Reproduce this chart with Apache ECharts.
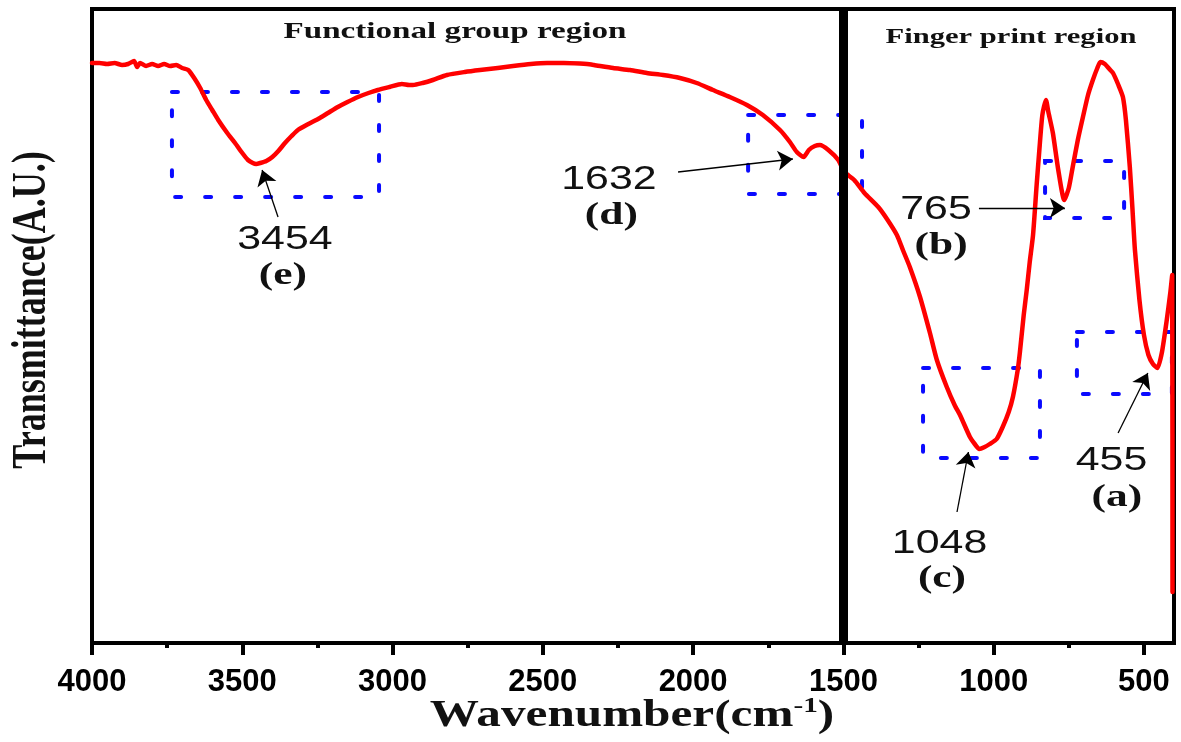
<!DOCTYPE html>
<html>
<head>
<meta charset="utf-8">
<title>FTIR spectrum</title>
<script src="https://cdn.jsdelivr.net/npm/echarts@6/dist/echarts.min.js"></script>
<style>
  html, body { margin: 0; padding: 0; background: #ffffff; }
  #chart { width: 1181px; height: 742px; }
</style>
</head>
<body>
<div id="chart"></div>
<script>
// FTIR spectrum: wavenumber (cm-1) against transmittance (arbitrary units)
const wavenumber = [
  4000, 3975, 3950, 3925, 3900, 3880, 3860, 3850, 3840, 3820, 3800, 3780, 3760, 3740, 3720,
  3700, 3680, 3660, 3640, 3620, 3600, 3580, 3550, 3524, 3500, 3481, 3465, 3454, 3440, 3420,
  3400, 3380, 3358, 3336, 3315, 3280, 3248, 3215, 3182, 3150, 3115, 3080, 3049, 3010, 2969,
  2945, 2932, 2900, 2866, 2819, 2760, 2709, 2650, 2599, 2540, 2486, 2430, 2377, 2353, 2330,
  2266, 2210, 2154, 2100, 2044, 1988, 1934, 1878, 1821, 1768, 1711, 1678, 1655, 1632, 1615,
  1595, 1578, 1550, 1517, 1497, 1464, 1430, 1384, 1355, 1322, 1302, 1279, 1245, 1212, 1189,
  1156, 1130, 1112, 1079, 1063, 1048, 1030, 1013, 990, 970, 950, 936, 920, 913, 900,
  890, 880, 869, 857, 848, 838, 826, 818, 803, 785, 765, 750, 737, 720, 703,
  686, 670, 655, 645, 630, 615, 603, 585, 570, 560, 547, 538, 530, 515, 500,
  485, 470, 455, 440, 425, 412, 406, 405
];
const transmittance = [
  580, 580, 579, 580, 578, 579, 582, 576, 580, 577, 579, 577, 579, 577, 578,
  575, 573, 565, 555, 543, 533, 523, 510, 500, 490, 483, 480, 479, 480, 482,
  486, 492, 500, 507, 513, 519, 524, 530, 536, 541, 546, 550, 553, 556, 559,
  558, 558, 560, 563, 568, 571, 573, 575, 577, 579, 580, 580, 579.5, 579, 578,
  575, 573, 570, 568, 565, 560, 553, 546, 538, 528, 513, 501, 491, 486, 493,
  497, 498, 493, 483, 471, 463, 450, 436, 424, 408, 393, 376, 346, 310, 283,
  256, 238, 228, 206, 199, 194, 196, 199, 204, 216, 231, 246, 273, 290, 328,
  353, 381, 408, 458, 493, 528, 543, 531, 510, 473, 443, 455, 476, 503, 526,
  548, 563, 575, 581, 579, 574, 570, 558, 546, 523, 476, 433, 393, 343, 308,
  288, 279, 275, 291, 321, 351, 368, 51
];

// axis ticks
const majorTicks = [500, 1000, 1500, 2000, 2500, 3000, 3500, 4000];
const minorTicks = [750, 1250, 1750, 2250, 2750, 3250, 3750];

// assigned bands
const peakPositions = [455, 765, 1048, 1632, 3454];
const peakTags = ['(a)', '(b)', '(c)', '(d)', '(e)'];
const regionBoundary = 1500;
const regionTitles = ['Functional group region', 'Finger print region'];

// annotation layout in data units: [wavenumber, transmittance]
const annotationLayout = {
  455:  { box: [[723, 311], [407, 249]], arrow: [[586, 210], [487, 270]], num: [608, 182],   tag: [590, 145.5] },
  765:  { box: [[829, 482], [566, 425]], arrow: [[1049, 435], [763, 435]], num: [1192, 433], tag: [1175, 397] },
  1048: { box: [[1235, 275], [846, 185]], arrow: [[1122, 131], [1084, 191]], num: [1180, 99.5], tag: [1172, 64.5] },
  1632: { box: [[1817, 528], [1438, 449]], arrow: [[2050, 471], [1668, 484]], num: [2280, 463.5], tag: [2272, 427] },
  3454: { box: [[3734, 551], [3045, 446]], arrow: [[3381, 426], [3434, 473]], num: [3358, 403], tag: [3365, 367] }
};

const spectrum = wavenumber.map((w, i) => [w, transmittance[i]]);

const boxData = peakPositions.map(p => {
  const b = annotationLayout[p].box;
  return [{ coord: b[0] }, { coord: b[1] }];
});
const arrowData = peakPositions.map(p => {
  const a = annotationLayout[p].arrow;
  return [
    { coord: a[0], symbol: 'none' },
    { coord: a[1], symbol: 'arrow', symbolSize: 15 }
  ];
});

const chart = echarts.init(document.getElementById('chart'), null, { renderer: 'canvas' });

const option = {
  animation: false,
  backgroundColor: '#ffffff',
  grid: {
    left: 92, right: 7, top: 9, bottom: 99,
    show: true, borderColor: '#000000', borderWidth: 4, backgroundColor: 'transparent'
  },
  xAxis: [
    {
      type: 'value', min: 400, max: 4000, inverse: true, position: 'bottom',
      axisLine: { show: true, lineStyle: { color: '#000', width: 4 } },
      axisTick: { show: true, inside: false, length: 12, customValues: majorTicks,
                  lineStyle: { color: '#000', width: 4 } },
      axisLabel: { show: true, customValues: majorTicks, margin: 24, color: '#000',
                   formatter: v => String(v),
                   fontFamily: '"Liberation Sans", Arial, sans-serif', fontWeight: 'bold', fontSize: 31 },
      splitLine: { show: false }
    },
    {
      type: 'value', min: 400, max: 4000, inverse: true, position: 'bottom', gridIndex: 0,
      axisLine: { show: false },
      axisTick: { show: true, inside: false, length: 5, customValues: minorTicks,
                  lineStyle: { color: '#000', width: 4 } },
      axisLabel: { show: true, customValues: minorTicks, formatter: () => '' },
      splitLine: { show: false }
    }
  ],
  yAxis: {
    type: 'value', min: 0, max: 634,
    axisLine: { show: false }, axisTick: { show: false }, axisLabel: { show: false },
    splitLine: { show: false }
  },
  series: [
    {
      // region boundary
      type: 'line', z: 1, data: [], silent: true,
      markLine: {
        silent: true, symbol: ['none', 'none'], animation: false,
        label: { show: false },
        lineStyle: { color: '#000000', width: 9, type: 'solid' },
        emphasis: { disabled: true },
        data: [{ xAxis: regionBoundary }]
      }
    },
    {
      // dotted boxes around the bands
      type: 'line', z: 2, data: [], silent: true,
      markArea: {
        silent: true,
        itemStyle: { color: 'rgba(0,0,0,0)', borderColor: '#0a0aff', borderWidth: 4,
                     borderType: [6, 24], borderCap: 'round' },
        label: { show: false },
        emphasis: { disabled: true },
        data: boxData
      }
    },
    {
      name: 'Transmittance', type: 'line', z: 3, data: spectrum,
      showSymbol: false, smooth: 0.2, silent: true,
      lineStyle: { color: '#ff0000', width: 4.5, join: 'round', cap: 'round' },
      // pointer arrows to the bands
      markLine: {
        silent: true, symbol: ['none', 'arrow'], symbolSize: 15, animation: false,
        label: { show: false },
        itemStyle: { color: '#000000' },
        lineStyle: { color: '#000000', width: 1.3, type: 'solid' },
        emphasis: { disabled: true },
        data: arrowData
      }
    }
  ]
};

chart.setOption(option);

// text annotations, placed through the chart's coordinate system
const toPx = p => chart.convertToPixel({ xAxisIndex: 0, yAxisIndex: 0 }, p);
const serif = '"Liberation Serif", "Times New Roman", serif';
const sans = '"Liberation Sans", Arial, sans-serif';

function textEl(str, pos, font, scaleX, extra) {
  return Object.assign({
    type: 'text', x: pos[0], y: pos[1], scaleX: scaleX, scaleY: 1, z: 100, silent: true,
    style: { text: str, font: font, fill: '#111111',
             align: 'center', verticalAlign: 'middle',
             textAlign: 'center', textVerticalAlign: 'middle' }
  }, extra || {});
}

const graphics = [];
peakPositions.forEach((p, i) => {
  const l = annotationLayout[p];
  graphics.push(textEl(String(p), toPx(l.num), 'normal 33px ' + sans, 1.3));
  graphics.push(textEl(peakTags[i], toPx(l.tag), 'bold 31px ' + serif, 1.4));
});

// region titles
graphics.push(textEl(regionTitles[0], [455, 32], 'bold 24px ' + serif, 1.38));
graphics.push(textEl(regionTitles[1], [1011, 37.5], 'bold 22px ' + serif, 1.39));

// axis titles
graphics.push({
  type: 'text', x: 632, y: 716, scaleX: 1.33, scaleY: 1, z: 100, silent: true,
  style: {
    text: '{a|Wavenumber(cm}{s|-1}{a|)}',
    align: 'center', verticalAlign: 'middle', textAlign: 'center', textVerticalAlign: 'middle',
    fill: '#111111',
    rich: {
      a: { font: 'bold 37px ' + serif, fill: '#111111', lineHeight: 42 },
      s: { font: 'bold 22px ' + serif, fill: '#111111', lineHeight: 42, verticalAlign: 'top' }
    }
  }
});
graphics.push({
  type: 'text', x: 33, y: 310, rotation: Math.PI / 2, scaleX: 1, scaleY: 1.33, z: 100, silent: true,
  style: { text: 'Transmittance(A.U.)', font: 'bold 36px ' + serif, fill: '#111111',
           align: 'center', verticalAlign: 'middle', textAlign: 'center', textVerticalAlign: 'middle' }
});

chart.setOption({ graphic: graphics });
</script>
</body>
</html>
